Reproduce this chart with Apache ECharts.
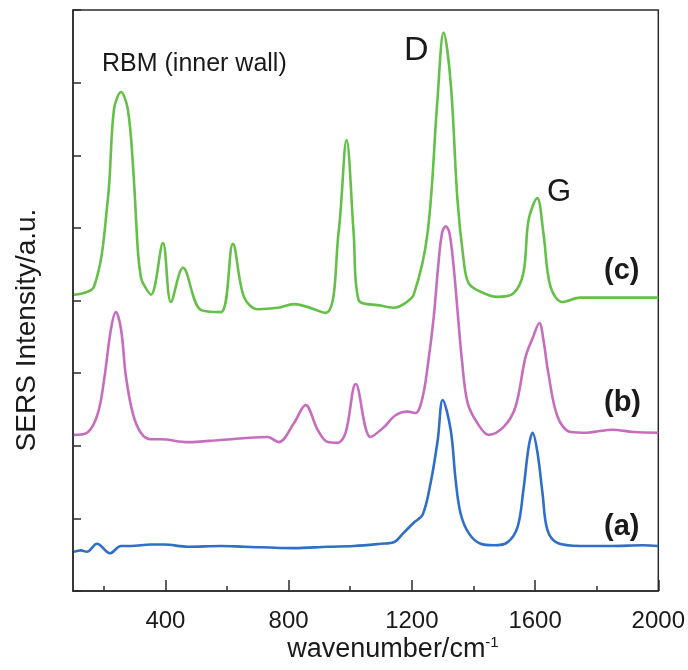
<!DOCTYPE html>
<html>
<head>
<meta charset="utf-8">
<script src="https://cdn.jsdelivr.net/npm/echarts@6/dist/echarts.min.js"></script>
<style>
  html, body { margin: 0; padding: 0; background: #fff; }
  #chart { width: 688px; height: 670px; }
</style>
</head>
<body>
<div id="chart"></div>
<script>
// spectra (wavenumber / offset intensity, a.u.)
var waveA = [103, 126, 145, 178, 220, 256, 288, 353, 395, 473, 580, 655, 817, 927, 1011, 1099, 1141, 1173, 1206, 1235, 1261, 1284, 1300, 1326, 1342, 1358, 1384, 1423, 1465, 1510, 1543, 1562, 1579, 1592, 1608, 1624, 1640, 1673, 1747, 1850, 1950, 2000]
var intA = [0.54, 0.56, 0.54, 0.65, 0.52, 0.62, 0.62, 0.64, 0.64, 0.61, 0.62, 0.61, 0.59, 0.61, 0.62, 0.65, 0.67, 0.80, 0.94, 1.05, 1.49, 2.08, 2.63, 2.22, 1.53, 1.07, 0.80, 0.65, 0.63, 0.67, 0.88, 1.39, 1.98, 2.18, 1.90, 1.35, 0.84, 0.66, 0.62, 0.62, 0.63, 0.62]

var waveB = [103, 149, 181, 201, 223, 239, 256, 272, 294, 320, 353, 385, 473, 580, 732, 768, 817, 855, 894, 927, 959, 985, 1018, 1066, 1108, 1147, 1186, 1212, 1235, 1254, 1271, 1285, 1298, 1310, 1322, 1336, 1350, 1362, 1381, 1413, 1449, 1498, 1536, 1569, 1592, 1614, 1627, 1643, 1673, 1715, 1770, 1805, 1850, 1920, 2000]
var intB = [2.15, 2.19, 2.45, 2.91, 3.60, 3.84, 3.60, 2.95, 2.45, 2.18, 2.09, 2.09, 2.05, 2.08, 2.12, 2.05, 2.31, 2.56, 2.22, 2.05, 2.04, 2.18, 2.85, 2.12, 2.25, 2.42, 2.47, 2.45, 2.67, 3.18, 3.77, 4.45, 4.93, 5.02, 4.93, 4.45, 3.77, 3.20, 2.59, 2.31, 2.15, 2.26, 2.53, 3.22, 3.48, 3.69, 3.46, 3.00, 2.40, 2.19, 2.18, 2.20, 2.22, 2.19, 2.18]

var waveC = [103, 168, 213, 233, 256, 278, 295, 311, 320, 327, 353, 392, 418, 457, 515, 580, 619, 655, 700, 765, 817, 920, 962, 988, 1011, 1027, 1099, 1141, 1173, 1206, 1251, 1283, 1303, 1326, 1348, 1368, 1384, 1423, 1478, 1530, 1562, 1579, 1607, 1627, 1650, 1689, 1747, 1854, 2000]
var intC = [4.08, 4.19, 5.39, 6.63, 6.87, 6.63, 5.84, 4.66, 4.33, 4.24, 4.08, 4.79, 3.98, 4.45, 3.87, 3.84, 4.78, 4.05, 3.88, 3.90, 3.95, 3.83, 4.93, 6.21, 4.93, 4.01, 3.93, 3.90, 3.95, 4.08, 4.93, 6.76, 7.69, 7.00, 5.39, 4.56, 4.24, 4.12, 4.05, 4.10, 4.38, 5.11, 5.41, 4.93, 4.19, 3.98, 4.04, 4.04, 4.04]

var majorTicks = [400, 800, 1200, 1600, 2000]
var minorTicks = [200, 600, 1000, 1400, 1800]

function pairs (xs, ys) {
  var out = []
  for (var i = 0; i < xs.length; i++) {
    out.push([xs[i], ys[i]])
  }
  return out
}

var chart = echarts.init(document.getElementById('chart'))
var axisColor = '#2b2b2b'
var textColor = '#1a1a1a'
var font = 'Liberation Sans, Arial, sans-serif'

var options = {
  animation: false,
  grid: {
    left: 73,
    right: 29,
    top: 10,
    bottom: 79,
    show: true,
    borderColor: axisColor,
    borderWidth: 1.5
  },
  xAxis: [{
    type: 'value',
    min: 100,
    max: 2000,
    position: 'bottom',
    axisLine: { show: true, lineStyle: { color: axisColor, width: 1.5 } },
    axisTick: { show: true, inside: true, length: 11, customValues: majorTicks, lineStyle: { color: axisColor, width: 1.5 } },
    axisLabel: {
      customValues: majorTicks,
      margin: 18,
      fontSize: 24,
      fontFamily: font,
      color: textColor,
      formatter: function (v) { return String(v) }
    },
    splitLine: { show: false }
  }, {
    type: 'value',
    min: 100,
    max: 2000,
    position: 'bottom',
    axisLine: { show: false },
    axisTick: { show: true, inside: true, length: 5, customValues: minorTicks, lineStyle: { color: axisColor, width: 1.5 } },
    axisLabel: { show: false },
    splitLine: { show: false }
  }],
  yAxis: {
    type: 'value',
    min: 0,
    max: 8,
    interval: 1,
    axisLine: { show: true, lineStyle: { color: axisColor, width: 1.5 } },
    axisTick: { show: true, inside: true, length: 8, lineStyle: { color: axisColor, width: 1.5 } },
    axisLabel: { show: false },
    splitLine: { show: false }
  },
  graphic: [
    {
      type: 'text',
      x: 393,
      y: 650,
      style: {
        text: '{a|wavenumber/cm}{s|-1}',
        align: 'center',
        verticalAlign: 'middle',
        rich: {
          a: { fontSize: 27, fontFamily: font, fill: textColor, lineHeight: 30 },
          s: { fontSize: 15, fontFamily: font, fill: textColor, verticalAlign: 'top', lineHeight: 30 }
        }
      }
    },
    {
      type: 'text',
      x: 27,
      y: 330,
      rotation: Math.PI / 2,
      style: { text: 'SERS Intensity/a.u.', fontSize: 28, fontFamily: font, fill: textColor, align: 'center', verticalAlign: 'middle' }
    },
    { type: 'text', left: 102, top: 52, style: { text: 'RBM (inner wall)', fontSize: 25, fontFamily: font, fill: textColor } },
    { type: 'text', left: 404, top: 34, style: { text: 'D', fontSize: 34, fontFamily: font, fill: textColor } },
    { type: 'text', left: 547, top: 177, style: { text: 'G', fontSize: 31, fontFamily: font, fill: textColor } },
    { type: 'text', left: 604, top: 256, style: { text: '(c)', fontSize: 29, fontWeight: 'bold', fontFamily: font, fill: textColor } },
    { type: 'text', left: 604, top: 388, style: { text: '(b)', fontSize: 29, fontWeight: 'bold', fontFamily: font, fill: textColor } },
    { type: 'text', left: 604, top: 512, style: { text: '(a)', fontSize: 29, fontWeight: 'bold', fontFamily: font, fill: textColor } }
  ],
  series: [
    { name: 'a', type: 'line', data: pairs(waveA, intA), color: '#2e6fc9' },
    { name: 'b', type: 'line', data: pairs(waveB, intB), color: '#c76dbd' },
    { name: 'c', type: 'line', data: pairs(waveC, intC), color: '#64c047' }
  ]
}

for (var i = 0; i < options.series.length; i++) {
  options.series[i].smooth = 0.35
  options.series[i].symbol = 'none'
  options.series[i].lineStyle = { width: 2.6 }
  options.series[i].silent = true
}

chart.setOption(options)
</script>
</body>
</html>
